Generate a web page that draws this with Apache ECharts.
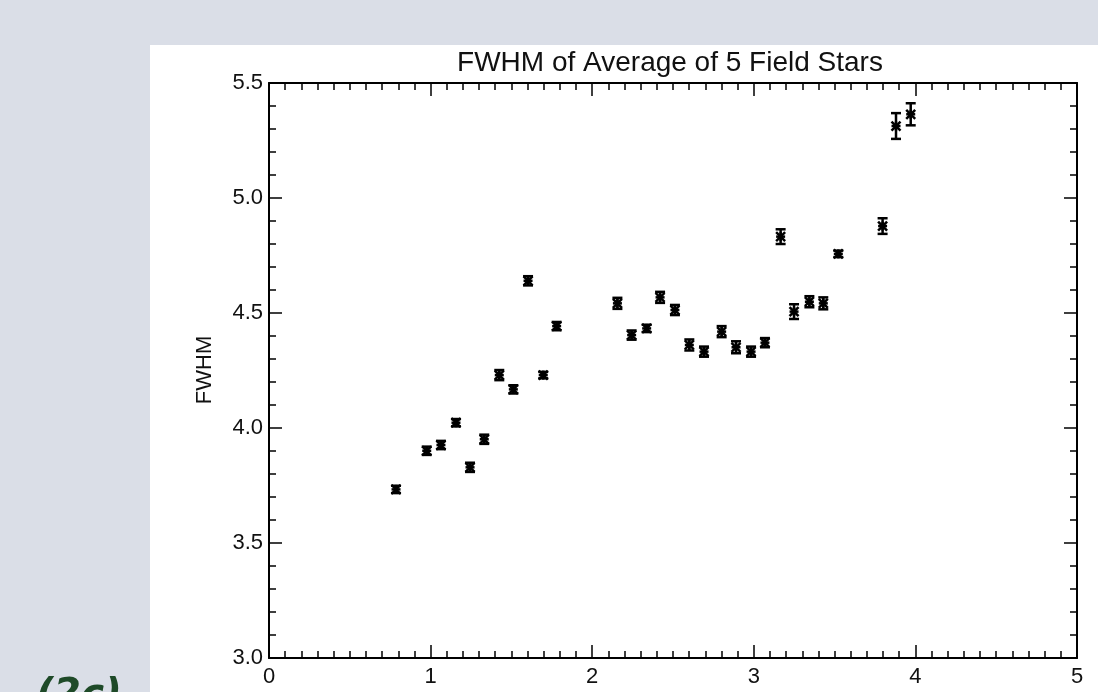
<!DOCTYPE html>
<html>
<head>
<meta charset="utf-8">
<title>FWHM of Average of 5 Field Stars</title>
<style>
  * { margin: 0; padding: 0; }
  body { background: #dadee7; }
  #main { width: 1098px; height: 692px; }
</style>
</head>
<body>
<div id="main"></div>
<script src="https://cdn.jsdelivr.net/npm/echarts@6/dist/echarts.min.js"></script>
<script>
// values
var xVals = [0.786, 0.976, 1.064, 1.157, 1.244, 1.332, 1.425, 1.512, 1.603, 1.697,
             1.780, 2.156, 2.244, 2.337, 2.420, 2.512, 2.601, 2.692, 2.801, 2.890,
             2.983, 3.069, 3.166, 3.249, 3.344, 3.430, 3.523, 3.797, 3.880, 3.971];
var fwhm  = [3.733, 3.901, 3.926, 4.023, 3.829, 3.951, 4.230, 4.168, 4.640, 4.230,
             4.443, 4.542, 4.404, 4.433, 4.568, 4.513, 4.361, 4.332, 4.419, 4.351,
             4.332, 4.371, 4.832, 4.506, 4.549, 4.542, 4.757, 4.878, 5.313, 5.364];
var errs  = [0.016, 0.018, 0.018, 0.016, 0.020, 0.020, 0.022, 0.018, 0.020, 0.014,
             0.018, 0.024, 0.020, 0.016, 0.024, 0.022, 0.024, 0.022, 0.024, 0.026,
             0.022, 0.020, 0.032, 0.032, 0.024, 0.026, 0.014, 0.034, 0.056, 0.048];
var xTicks = [0, 1, 2, 3, 4, 5];
var yTicks = [3.0, 3.5, 4.0, 4.5, 5.0, 5.5];

var pts = xVals.map(function (x, i) { return [x, fwhm[i], errs[i]]; });

var font = '"Liberation Sans", Arial, Helvetica, sans-serif';
var axisLine = { show: true, onZero: false, lineStyle: { color: '#000', width: 2 } };
var axisTick = { show: true, inside: true, length: 13, lineStyle: { color: '#000', width: 1.5 } };

function makeX(pos, labels) {
  return {
    type: 'value', min: xTicks[0], max: xTicks[xTicks.length - 1], interval: 1, position: pos,
    axisLine: axisLine, axisTick: axisTick, splitLine: { show: false },
    minorTick: { show: true, splitNumber: 10, length: 7, lineStyle: { color: '#000', width: 1.5 } },
    axisLabel: labels ? { color: '#111', fontSize: 22, margin: 8, formatter: function (v) { return String(v); } } : { show: false }
  };
}
function makeY(pos, labels) {
  return {
    type: 'value', min: yTicks[0], max: yTicks[yTicks.length - 1], interval: 0.5, position: pos,
    axisLine: axisLine, axisTick: axisTick, splitLine: { show: false },
    minorTick: { show: true, splitNumber: 5, length: 7, lineStyle: { color: '#000', width: 1.5 } },
    axisLabel: labels ? { color: '#111', fontSize: 22, margin: 6, formatter: function (v) { return v.toFixed(1); } } : { show: false }
  };
}

// asterisk with an error bar
function drawPoint(params, api) {
  var c = api.coord([api.value(0), api.value(1)]);
  var hi = api.coord([api.value(0), api.value(1) + api.value(2)]);
  var lo = api.coord([api.value(0), api.value(1) - api.value(2)]);
  var st = { stroke: '#000', lineWidth: 2.5 };
  var cap = 5, s = 4.5;
  var lines = [
    [c[0], hi[1], c[0], lo[1]],
    [c[0] - cap, hi[1], c[0] + cap, hi[1]],
    [c[0] - cap, lo[1], c[0] + cap, lo[1]],
    [c[0] - s, c[1], c[0] + s, c[1]],
    [c[0] - s, c[1] - s, c[0] + s, c[1] + s],
    [c[0] - s, c[1] + s, c[0] + s, c[1] - s],
    [c[0], c[1] - s, c[0], c[1] + s]
  ];
  return {
    type: 'group',
    children: lines.map(function (l) {
      return { type: 'line', shape: { x1: l[0], y1: l[1], x2: l[2], y2: l[3] }, style: st };
    })
  };
}

var chart = echarts.init(document.getElementById('main'));
chart.setOption({
  backgroundColor: '#dadee7',
  animation: false,
  textStyle: { fontFamily: font },
  graphic: [
    { type: 'rect', z: -10, shape: { x: 150, y: 45, width: 948, height: 647 }, style: { fill: '#ffffff' } },
    { type: 'text', x: 670, y: 63, style: { text: 'FWHM of Average of 5 Field Stars', font: '28px ' + font, fill: '#111', textAlign: 'center', textVerticalAlign: 'middle' } },
    { type: 'text', x: 205, y: 370, rotation: Math.PI / 2, style: { text: 'FWHM', font: '22px ' + font, fill: '#111', textAlign: 'center', textVerticalAlign: 'middle' } },
    { type: 'text', x: 36, y: 676, style: { text: '(2c)', font: 'italic bold 39px "DejaVu Sans", sans-serif', fill: '#1e4a28' } }
  ],
  grid: { left: 269, right: 21, top: 83, bottom: 34, containLabel: false },
  xAxis: [makeX('bottom', true), makeX('top', false)],
  yAxis: [makeY('left', true), makeY('right', false)],
  series: [{
    type: 'custom',
    xAxisIndex: 0,
    yAxisIndex: 0,
    renderItem: drawPoint,
    encode: { x: 0, y: 1 },
    data: pts,
    clip: false
  }]
});
</script>
</body>
</html>
